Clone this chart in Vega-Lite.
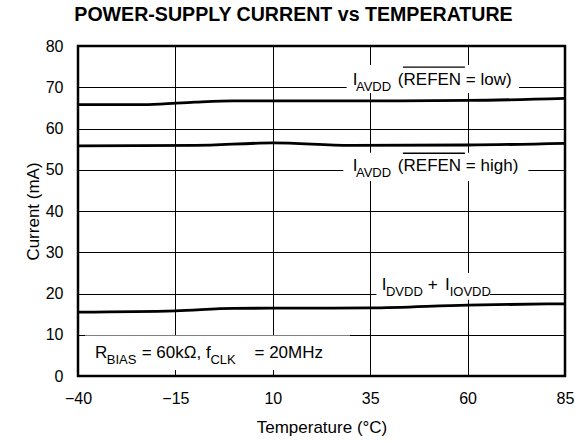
{
  "$schema": "https://vega.github.io/schema/vega-lite/v6.json",
  "autosize": "none",
  "width": 487,
  "height": 330,
  "padding": {"left": 78, "top": 46, "right": 10, "bottom": 67},
  "background": "white",
  "title": {
    "text": "POWER-SUPPLY CURRENT vs TEMPERATURE",
    "font": "Liberation Sans",
    "fontSize": 19.6,
    "fontWeight": "bold",
    "color": "black",
    "anchor": "middle",
    "dx": -28,
    "baseline": "alphabetic",
    "offset": -3
  },
  "config": {
    "view": {"stroke": "black", "strokeWidth": 2.5},
    "axis": {
      "grid": true,
      "gridColor": "black",
      "gridWidth": 1,
      "gridOpacity": 1,
      "ticks": false,
      "domain": false,
      "labelFont": "Liberation Sans",
      "labelFontSize": 16,
      "labelColor": "black",
      "labelFlush": false,
      "labelOverlap": false,
      "titleFont": "Liberation Sans",
      "titleFontSize": 17,
      "titleFontWeight": "normal",
      "titleColor": "black"
    }
  },
  "datasets": {
    "curves": [
      {"series": "AVDD low", "t": -40, "v": 65.8},
      {"series": "AVDD low", "t": -22, "v": 65.8},
      {"series": "AVDD low", "t": -10, "v": 66.4},
      {"series": "AVDD low", "t": 0, "v": 66.7},
      {"series": "AVDD low", "t": 35, "v": 66.7},
      {"series": "AVDD low", "t": 60, "v": 66.8},
      {"series": "AVDD low", "t": 85, "v": 67.3},
      {"series": "AVDD high", "t": -40, "v": 55.8},
      {"series": "AVDD high", "t": -10, "v": 55.9},
      {"series": "AVDD high", "t": 10, "v": 56.5},
      {"series": "AVDD high", "t": 30, "v": 55.9},
      {"series": "AVDD high", "t": 60, "v": 56.0},
      {"series": "AVDD high", "t": 85, "v": 56.4},
      {"series": "DVDD+IOVDD", "t": -40, "v": 15.5},
      {"series": "DVDD+IOVDD", "t": -15, "v": 15.8},
      {"series": "DVDD+IOVDD", "t": 0, "v": 16.4},
      {"series": "DVDD+IOVDD", "t": 35, "v": 16.5},
      {"series": "DVDD+IOVDD", "t": 60, "v": 17.2},
      {"series": "DVDD+IOVDD", "t": 85, "v": 17.5}
    ],
    "boxes": [
      {"t": 28.97, "t2": 73.2, "v": 68.6, "v2": 75.4},
      {"t": 28.1, "t2": 75.6, "v": 47.3, "v2": 54.1},
      {"t": 36.6, "t2": 65.75, "v": 18.5, "v2": 25.0},
      {"t": -38.2, "t2": 29.8, "v": 1.45, "v2": 9.8}
    ],
    "overlines": [
      {"t": 43.4, "t2": 59.3, "v": 74.9},
      {"t": 43.4, "t2": 59.3, "v": 54.0}
    ],
    "labels": [
      {"part": "main", "t": 30.5, "v": 70.5, "text": "I"},
      {"part": "sub", "t": 31.35, "v": 70.5, "text": "AVDD"},
      {"part": "main", "t": 42.1, "v": 70.5, "text": "(REFEN = low)"},
      {"part": "main", "t": 30.5, "v": 49.8, "text": "I"},
      {"part": "sub", "t": 31.35, "v": 49.8, "text": "AVDD"},
      {"part": "main", "t": 42.1, "v": 49.8, "text": "(REFEN = high)"},
      {"part": "main", "t": 37.95, "v": 20.8, "text": "I"},
      {"part": "sub", "t": 39.05, "v": 20.8, "text": "DVDD"},
      {"part": "main", "t": 49.8, "v": 20.8, "text": "+"},
      {"part": "main", "t": 54.2, "v": 20.8, "text": "I"},
      {"part": "sub", "t": 55.4, "v": 20.8, "text": "IOVDD"},
      {"part": "main", "t": -35.64, "v": 4.3, "text": "R"},
      {"part": "sub", "t": -32.63, "v": 4.3, "text": "BIAS"},
      {"part": "main", "t": -23.65, "v": 4.3, "text": "= 60kΩ, f"},
      {"part": "sub", "t": -6.0, "v": 4.3, "text": "CLK"},
      {"part": "main", "t": 5.3, "v": 4.3, "text": "= 20MHz"}
    ]
  },
  "encoding": {
    "x": {
      "field": "t",
      "type": "quantitative",
      "scale": {"domain": [-40, 85], "nice": false, "zero": false},
      "axis": {
        "values": [-40, -15, 10, 35, 60, 85],
        "title": "Temperature (°C)",
        "labelPadding": 14,
        "titlePadding": 13
      }
    },
    "y": {
      "field": "v",
      "type": "quantitative",
      "scale": {"domain": [0, 80], "nice": false},
      "axis": {
        "values": [0, 10, 20, 30, 40, 50, 60, 70, 80],
        "title": "Current (mA)",
        "labelPadding": 15,
        "titlePadding": 3
      }
    }
  },
  "layer": [
    {
      "data": {"name": "boxes"},
      "mark": {"type": "rect", "fill": "white", "stroke": null},
      "encoding": {"x2": {"field": "t2"}, "y2": {"field": "v2"}}
    },
    {
      "data": {"name": "curves"},
      "mark": {"type": "line", "color": "black", "strokeWidth": 2.8, "interpolate": "monotone"},
      "encoding": {"detail": {"field": "series"}}
    },
    {
      "data": {"name": "overlines"},
      "mark": {"type": "rule", "color": "black", "strokeWidth": 1.3},
      "encoding": {"x2": {"field": "t2"}}
    },
    {
      "data": {"name": "labels"},
      "transform": [{"filter": "datum.part === 'main'"}],
      "mark": {"type": "text", "font": "Liberation Sans", "fontSize": 17, "align": "left", "baseline": "alphabetic", "color": "black"},
      "encoding": {"text": {"field": "text"}}
    },
    {
      "data": {"name": "labels"},
      "transform": [{"filter": "datum.part === 'sub'"}],
      "mark": {"type": "text", "font": "Liberation Sans", "fontSize": 13, "align": "left", "baseline": "alphabetic", "dy": 6, "color": "black"},
      "encoding": {"text": {"field": "text"}}
    }
  ]
}
